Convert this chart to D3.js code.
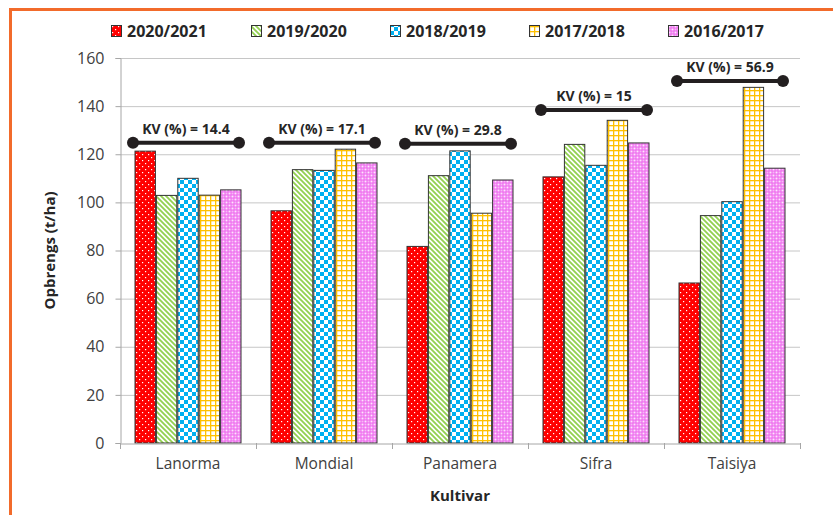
<!DOCTYPE html>
<html><head><meta charset="utf-8">
<script src="https://cdn.jsdelivr.net/npm/d3@7"></script>
<style>body{margin:0;background:#fff}svg{display:block}</style>
</head><body>
<script>
const categories = ["Lanorma","Mondial","Panamera","Sifra","Taisiya"];
const seriesNames = ["2020/2021","2019/2020","2018/2019","2017/2018","2016/2017"];
const s2020 = [121.3, 96.5, 81.7, 110.6, 66.5];
const s2019 = [102.9, 113.6, 111.1, 124.1, 94.5];
const s2018 = [110.0, 113.3, 121.4, 115.4, 100.3];
const s2017 = [103.0, 122.1, 95.5, 134.1, 147.8];
const s2016 = [105.2, 116.4, 109.3, 124.7, 114.2];
const seriesValues = [s2020, s2019, s2018, s2017, s2016];
const kvValues = [14.4, 17.1, 29.8, 15, 56.9];
const kvLevels = [124.8, 124.8, 124.4, 138.4, 150.4];
const yTicks = [0,20,40,60,80,100,120,140,160];

(function(){
const W = 833, H = 515;
const pL = 120, pR = 800, pT = 58, pB = 443;
const svg = d3.select("body").append("svg").attr("width", W).attr("height", H);
const defs = svg.append("defs");

function pat(id, w, h){ return defs.append("pattern").attr("id", id).attr("patternUnits","userSpaceOnUse").attr("width", w).attr("height", h); }
let p = pat("p0", 6, 6);
p.append("rect").attr("width",6).attr("height",6).attr("fill","#ff0000");
p.append("rect").attr("x",1).attr("y",1).attr("width",1.2).attr("height",1.2).attr("fill","#fff");
p.append("rect").attr("x",4).attr("y",4).attr("width",1.2).attr("height",1.2).attr("fill","#fff");
p = pat("p1", 5, 5);
p.append("rect").attr("width",5).attr("height",5).attr("fill","#fff");
p.append("path").attr("d","M-1,-1L6,6M-1,4L1,6M4,-1L6,1").attr("stroke","#92d050").attr("stroke-width",1.8);
p = pat("p2", 8, 8);
p.append("rect").attr("width",8).attr("height",8).attr("fill","#fff");
p.append("rect").attr("width",4).attr("height",4).attr("fill","#00b0f0");
p.append("rect").attr("x",4).attr("y",4).attr("width",4).attr("height",4).attr("fill","#00b0f0");
p = pat("p3", 5, 5);
p.append("rect").attr("width",5).attr("height",5).attr("fill","#fff");
p.append("rect").attr("width",1.3).attr("height",5).attr("fill","#ffc000");
p.append("rect").attr("width",5).attr("height",1.3).attr("fill","#ffc000");
p = pat("p4", 6, 6);
p.append("rect").attr("width",6).attr("height",6).attr("fill","#ee66ee");
p.append("rect").attr("x",0.5).attr("y",0.5).attr("width",2).attr("height",2).attr("fill","#fde6fd");
p.append("rect").attr("x",3.5).attr("y",3.5).attr("width",2).attr("height",2).attr("fill","#fde6fd");
p.append("rect").attr("x",3.5).attr("y",0.5).attr("width",2).attr("height",2).attr("fill","#f7b8f7");
p.append("rect").attr("x",0.5).attr("y",3.5).attr("width",2).attr("height",2).attr("fill","#f7b8f7");

svg.append("path").attr("d","M10.5,515V9.5H833").attr("fill","none").attr("stroke","#f26b2b").attr("stroke-width",3);

const y = d3.scaleLinear().domain([0,160]).range([pB, pT]);
const x0 = d3.scaleBand().domain(categories).range([pL, pR]).padding(0);
const gap = 14.5;
const x1 = d3.scaleBand().domain(seriesNames).range([gap, x0.bandwidth()-gap]).padding(0);

svg.append("g").selectAll("line").data(yTicks.filter(d=>d>0)).join("line")
  .attr("x1", pL).attr("x2", pR).attr("y1", d=>y(d)+0.5).attr("y2", d=>y(d)+0.5)
  .attr("stroke","#c6c6c6").attr("stroke-width",1);

const groups = svg.append("g").selectAll("g").data(categories).join("g")
  .attr("transform", d=>`translate(${x0(d)},0)`);
groups.selectAll("rect").data((c,i)=>seriesNames.map((s,j)=>({s, j, v: seriesValues[j][i]}))).join("rect")
  .attr("x", d=>x1(d.s)+0.5).attr("width", x1.bandwidth()-1)
  .attr("y", d=>y(d.v)).attr("height", d=>pB - y(d.v))
  .attr("fill", d=>`url(#p${d.j})`).attr("stroke","#333").attr("stroke-width",1);

const yAxis = svg.append("g").attr("transform",`translate(${pL+0.5},0)`)
  .call(d3.axisLeft(y).tickValues(yTicks).tickSize(5).tickPadding(11));
yAxis.select(".domain").attr("stroke","#a6a6a6");
yAxis.selectAll(".tick line").attr("stroke","#a6a6a6");
yAxis.selectAll("text").attr("font-family","'Open Sans'").attr("font-size",16).attr("fill","#404040");

const xAxis = svg.append("g").attr("transform",`translate(0,${pB+0.5})`)
  .call(d3.axisBottom(x0).tickSize(0).tickPadding(14));
xAxis.select(".domain").attr("stroke","#a6a6a6");
xAxis.selectAll("text").attr("font-family","'Open Sans'").attr("font-size",15.5).attr("fill","#404040");
svg.append("g").selectAll("line").data(categories.concat(["__end"])).join("line")
  .attr("x1",(d,i)=>pL + i*x0.step()+0.5).attr("x2",(d,i)=>pL + i*x0.step()+0.5)
  .attr("y1", pB).attr("y2", pB+6).attr("stroke","#a6a6a6");

svg.append("text").attr("x", (pL+pR)/2).attr("y", 501).attr("text-anchor","middle")
  .attr("font-family","'Open Sans'").attr("font-weight","bold").attr("font-size",15).attr("fill","#262626").text("Kultivar");
svg.append("text").attr("transform",`translate(55,${(pT+pB)/2}) rotate(-90)`).attr("text-anchor","middle")
  .attr("font-family","'Open Sans'").attr("font-weight","bold").attr("font-size",15).attr("fill","#262626").text("Opbrengs (t/ha)");

const kv = svg.append("g").selectAll("g").data(categories).join("g");
kv.each(function(c,i){
  const g = d3.select(this);
  const xa = x0(c)+13, xb = x0(c)+x0.bandwidth()-17, yy = y(kvLevels[i]);
  g.append("line").attr("x1",xa).attr("x2",xb).attr("y1",yy).attr("y2",yy).attr("stroke","#231f20").attr("stroke-width",4);
  g.append("circle").attr("cx",xa).attr("cy",yy).attr("r",6).attr("fill","#231f20");
  g.append("circle").attr("cx",xb).attr("cy",yy).attr("r",6).attr("fill","#231f20");
  g.append("text").attr("x",(xa+xb)/2).attr("y",yy-9).attr("text-anchor","middle")
    .attr("font-family","'Open Sans'").attr("font-weight","bold").attr("font-size",14).attr("fill","#262626")
    .text(`KV (%) = ${kvValues[i]}`);
});

const legendX = [111, 251, 390, 529, 668];
const lg = svg.append("g").selectAll("g").data(seriesNames).join("g")
  .attr("transform",(d,i)=>`translate(${legendX[i]},31)`);
lg.append("rect").attr("x",0.5).attr("y",-5.5).attr("width",10).attr("height",11)
  .attr("fill",(d,i)=>`url(#p${i})`).attr("stroke","#333").attr("stroke-width",1);
lg.append("text").attr("x",16).attr("y",6).attr("font-family","'Open Sans'").attr("font-weight","bold")
  .attr("font-size",16).attr("fill","#262626").text(d=>d);
})();
</script>
</body></html>
